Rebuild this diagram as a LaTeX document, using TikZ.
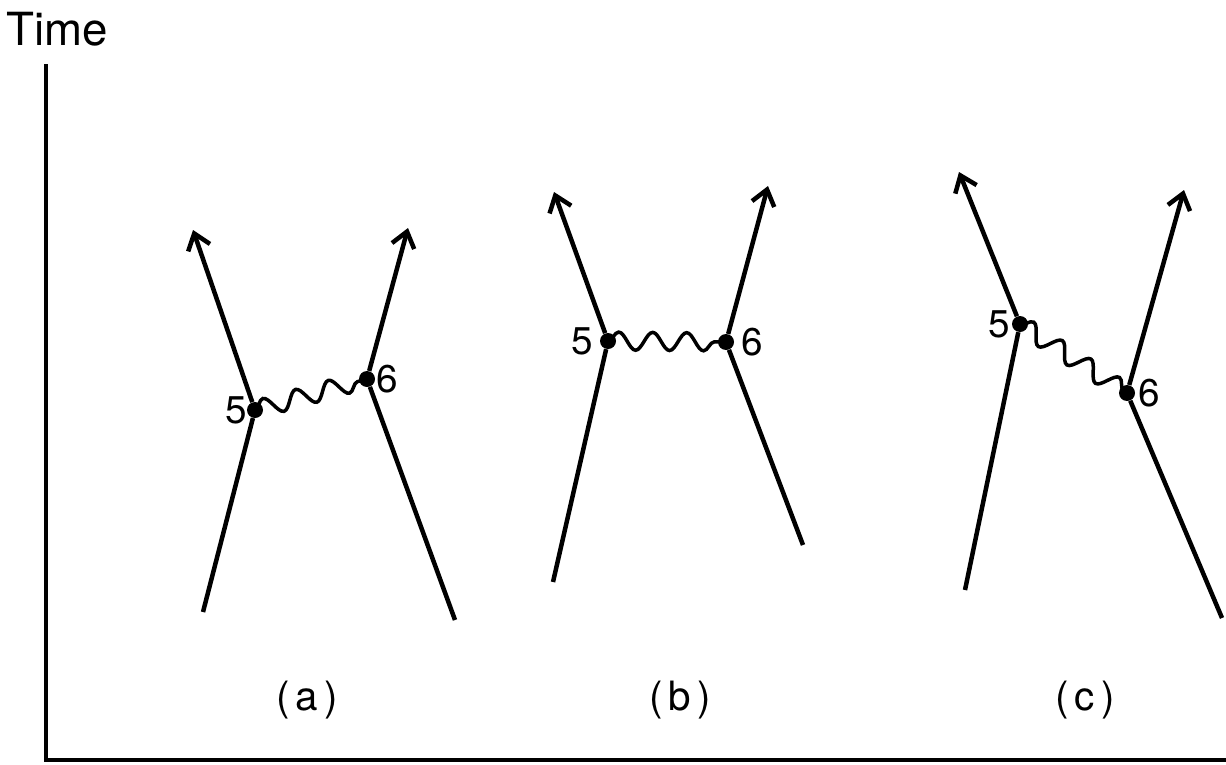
\documentclass[tikz,border=0pt]{standalone}
\usepackage{fontspec}
\setmainfont{TeX Gyre Heros}
\usetikzlibrary{arrows.meta,decorations.pathmorphing}
\tikzset{vtx/.style={circle,fill,inner sep=0pt,minimum size=0.32cm},
  worldline/.style={line width=0.09cm},
  photon/.style={line width=0.07cm,decorate,decoration={snake,segment length=0.68cm,amplitude=0.18cm}},
  num/.style={font=\fontsize{22}{22}\selectfont},
  subcap/.style={font=\fontsize{23}{23}\selectfont}}

\begin{document}
\begin{tikzpicture}[x=0.02cm,y=-0.02cm,>={Straight Barb[length=0.3cm,width=0.46cm]}]
\useasboundingbox (0,0) rectangle (1226,764);
% axes
\node[font=\fontsize{26}{26}\selectfont] (time) at (57,29) {Time};
\coordinate (top) at (46,64); \coordinate (origin) at (46,760); \coordinate (right) at (1226,760);
\draw[line width=0.08cm] (top)--(origin)--(right);
% (a)
\node[vtx] (a5) at (255,410) {}; \node[vtx] (a6) at (367,379) {};
\coordinate (a5in) at (203,612); \coordinate (a5out) at (193,230);
\coordinate (a6in) at (455,620); \coordinate (a6out) at (408,228);
\draw[worldline] (a5in)--(a5); \draw[worldline,->] (a5)--(a5out);
\draw[worldline] (a6in)--(a6); \draw[worldline,->] (a6)--(a6out);
\draw[photon] (a5.center)--(a6.center);
\node[num,left=1pt] (a5l) at (a5) {5}; \node[num,right=2pt] (a6l) at (a6) {6};
\node[subcap] (acap) at (307,700) {(\hspace{0.15em}a\hspace{0.15em})};
% (b)
\node[vtx] (b5) at (608,341) {}; \node[vtx] (b6) at (726,342) {};
\coordinate (b5in) at (553,582); \coordinate (b5out) at (554,192);
\coordinate (b6in) at (803,545); \coordinate (b6out) at (768,186);
\draw[worldline] (b5in)--(b5); \draw[worldline,->] (b5)--(b5out);
\draw[worldline] (b6in)--(b6); \draw[worldline,->] (b6)--(b6out);
\draw[photon] (b5.center)--(b6.center);
\node[num,left=5pt] (b5l) at (b5) {5}; \node[num,right=5pt] (b6l) at (b6) {6};
\node[subcap] (bcap) at (680,700) {(\hspace{0.15em}b\hspace{0.15em})};
% (c)
\node[vtx] (c5) at (1020,324) {}; \node[vtx] (c6) at (1127,393) {};
\coordinate (c5in) at (965,590); \coordinate (c5out) at (959,172);
\coordinate (c6in) at (1222,618); \coordinate (c6out) at (1184,190);
\draw[worldline] (c5in)--(c5); \draw[worldline,->] (c5)--(c5out);
\draw[worldline] (c6in)--(c6); \draw[worldline,->] (c6)--(c6out);
\draw[photon] (c5.center)--(c6.center);
\node[num,left=2pt] (c5l) at (c5) {5}; \node[num,right=3pt] (c6l) at (c6) {6};
\node[subcap] (ccap) at (1085,700) {(\hspace{0.15em}c\hspace{0.15em})};
\end{tikzpicture}
\end{document}
